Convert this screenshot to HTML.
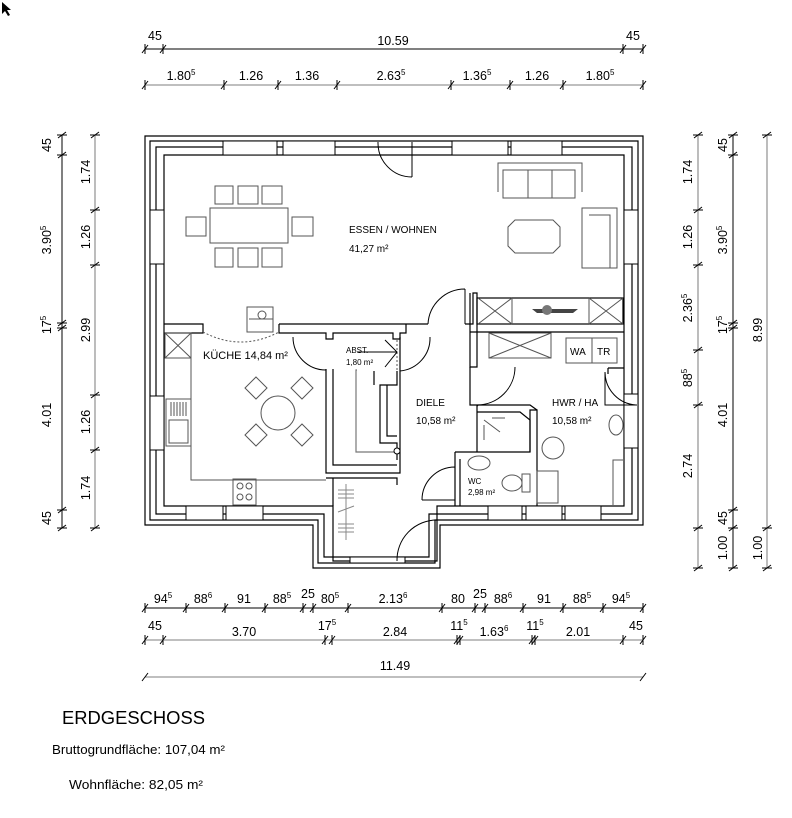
<!DOCTYPE html>
<html><head><meta charset="utf-8"><style>
html,body{margin:0;padding:0;background:#fff;}
svg{display:block;}
text{font-family:"Liberation Sans",sans-serif;fill:#000;}
.d text{font-family:"Liberation Sans Narrow","Liberation Sans",sans-serif;}
.d{font-size:12.5px;}
.r{font-size:10px;}
</style></head><body>
<svg width="792" height="818" viewBox="0 0 792 818" xmlns="http://www.w3.org/2000/svg">
<rect width="792" height="818" fill="#fff"/>
<path d="M2,2 L2,14 L5,11 L8,16 L10,15 L7,10 L11,10 Z" fill="#000"/>

<g stroke="#000" stroke-width="1" fill="none">
<line x1="145" y1="49" x2="643" y2="49"/>
<line x1="62" y1="135" x2="62" y2="528"/>
<line x1="733" y1="135" x2="733" y2="568"/>
</g>
<g stroke="#999" stroke-width="1.3" fill="none">
<line x1="145" y1="85" x2="643" y2="85"/>
<line x1="145" y1="608" x2="643" y2="608" stroke="#000" stroke-width="1"/>
<line x1="145" y1="640" x2="643" y2="640"/>
<line x1="145" y1="677" x2="643" y2="677"/>
<line x1="95" y1="135" x2="95" y2="528"/>
<line x1="698" y1="135" x2="698" y2="568"/>
<line x1="767" y1="135" x2="767" y2="568"/>
</g>
<g stroke="#000" stroke-width="1">
<path d="M142,53L148,45M145,44V54 M160,53L166,45M163,44V54 M620,53L626,45M623,44V54 M640,53L646,45M643,44V54"/>
<path d="M142,89L148,81M145,80V90 M221,89L227,81M224,80V90 M275,89L281,81M278,80V90 M334,89L340,81M337,80V90 M448,89L454,81M451,80V90 M507,89L513,81M510,80V90 M560,89L566,81M563,80V90 M640,89L646,81M643,80V90"/>
<path d="M142,612L148,604M145,603V613 M183,612L189,604M186,603V613 M222,612L228,604M225,603V613 M262,612L268,604M265,603V613 M300,612L306,604M303,603V613 M310,612L316,604M313,603V613 M345,612L351,604M348,603V613 M439,612L445,604M442,603V613 M472,612L478,604M475,603V613 M482,612L488,604M485,603V613 M520,612L526,604M523,603V613 M560,612L566,604M563,603V613 M600,612L606,604M603,603V613 M640,612L646,604M643,603V613"/>
<path d="M142,644L148,636M145,635V645 M160,644L166,636M163,635V645 M322,644L328,636M325,635V645 M329,644L335,636M332,635V645 M454,644L460,636M457,635V645 M457,644L463,636M460,635V645 M529,644L535,636M532,635V645 M532,644L538,636M535,635V645 M620,644L626,636M623,635V645 M640,644L646,636M643,635V645"/>
<path d="M142,681L148,673 M640,681L646,673"/>
<path d="M58,138L66,132M57,135H67 M58,158L66,152M57,155H67 M58,326L66,320M57,323H67 M58,331L66,325M57,328H67 M58,513L66,507M57,510H67 M58,531L66,525M57,528H67"/>
<path d="M91,138L99,132M90,135H100 M91,213L99,207M90,210H100 M91,268L99,262M90,265H100 M91,398L99,392M90,395H100 M91,453L99,447M90,450H100 M91,531L99,525M90,528H100"/>
<path d="M694,138L702,132M693,135H703 M694,213L702,207M693,210H703 M694,268L702,262M693,265H703 M694,353L702,347M693,350H703 M694,408L702,402M693,405H703 M694,531L702,525M693,528H703 M694,571L702,565M693,568H703"/>
<path d="M729,138L737,132M728,135H738 M729,158L737,152M728,155H738 M729,326L737,320M728,323H738 M729,331L737,325M728,328H738 M729,513L737,507M728,510H738 M729,531L737,525M728,528H738 M729,571L737,565M728,568H738"/>
<path d="M763,138L771,132M762,135H772 M763,531L771,525M762,528H772 M763,571L771,565M762,568H772"/>
</g>
<g class="d" text-anchor="middle">
<text x="155" y="40">45</text><text x="393" y="45">10.59</text><text x="633" y="40">45</text>
<text x="181" y="80">1.80<tspan font-size="8" dy="-5">5</tspan></text>
<text x="251" y="80">1.26</text><text x="307" y="80">1.36</text>
<text x="391" y="80">2.63<tspan font-size="8" dy="-5">5</tspan></text>
<text x="477" y="80">1.36<tspan font-size="8" dy="-5">5</tspan></text>
<text x="537" y="80">1.26</text>
<text x="600" y="80">1.80<tspan font-size="8" dy="-5">5</tspan></text>

<text x="163" y="603">94<tspan font-size="8" dy="-5">5</tspan></text>
<text x="203" y="603">88<tspan font-size="8" dy="-5">6</tspan></text>
<text x="244" y="603">91</text>
<text x="282" y="603">88<tspan font-size="8" dy="-5">5</tspan></text>
<text x="308" y="598">25</text>
<text x="330" y="603">80<tspan font-size="8" dy="-5">5</tspan></text>
<text x="393" y="603">2.13<tspan font-size="8" dy="-5">6</tspan></text>
<text x="458" y="603">80</text>
<text x="480" y="598">25</text>
<text x="503" y="603">88<tspan font-size="8" dy="-5">6</tspan></text>
<text x="544" y="603">91</text>
<text x="582" y="603">88<tspan font-size="8" dy="-5">5</tspan></text>
<text x="621" y="603">94<tspan font-size="8" dy="-5">5</tspan></text>

<text x="155" y="630">45</text>
<text x="244" y="636">3.70</text>
<text x="327" y="630">17<tspan font-size="8" dy="-5">5</tspan></text>
<text x="395" y="636">2.84</text>
<text x="459" y="630">11<tspan font-size="8" dy="-5">5</tspan></text>
<text x="494" y="636">1.63<tspan font-size="8" dy="-5">6</tspan></text>
<text x="535" y="630">11<tspan font-size="8" dy="-5">5</tspan></text>
<text x="578" y="636">2.01</text>
<text x="636" y="630">45</text>
<text x="395" y="670">11.49</text>
</g>
<g class="d" text-anchor="middle">
<text transform="translate(51,145) rotate(-90)">45</text>
<text transform="translate(51,240) rotate(-90)">3.90<tspan font-size="8" dy="-5">5</tspan></text>
<text transform="translate(51,325) rotate(-90)">17<tspan font-size="8" dy="-5">5</tspan></text>
<text transform="translate(51,415) rotate(-90)">4.01</text>
<text transform="translate(51,518) rotate(-90)">45</text>
<text transform="translate(90,172) rotate(-90)">1.74</text>
<text transform="translate(90,237) rotate(-90)">1.26</text>
<text transform="translate(90,330) rotate(-90)">2.99</text>
<text transform="translate(90,422) rotate(-90)">1.26</text>
<text transform="translate(90,488) rotate(-90)">1.74</text>

<text transform="translate(692,172) rotate(-90)">1.74</text>
<text transform="translate(692,237) rotate(-90)">1.26</text>
<text transform="translate(692,308) rotate(-90)">2.36<tspan font-size="8" dy="-5">5</tspan></text>
<text transform="translate(692,378) rotate(-90)">88<tspan font-size="8" dy="-5">5</tspan></text>
<text transform="translate(692,466) rotate(-90)">2.74</text>
<text transform="translate(727,548) rotate(-90)">1.00</text>
<text transform="translate(727,145) rotate(-90)">45</text>
<text transform="translate(727,240) rotate(-90)">3.90<tspan font-size="8" dy="-5">5</tspan></text>
<text transform="translate(727,325) rotate(-90)">17<tspan font-size="8" dy="-5">5</tspan></text>
<text transform="translate(727,415) rotate(-90)">4.01</text>
<text transform="translate(727,518) rotate(-90)">45</text>
<text transform="translate(762,330) rotate(-90)">8.99</text>
<text transform="translate(762,548) rotate(-90)">1.00</text>
</g>

<g stroke="#000" stroke-width="1.2" fill="none">
<path d="M145,136H643V525H440V568H313V525H145Z"/>
<path d="M150,141H638V520H435V563H318V520H150Z"/>
<path d="M156,147H632V514H429V557H324V514H156Z"/>
<path d="M164,155H624V506H437V561H333V506H164Z"/>
</g>
<g stroke="#000" stroke-width="1" fill="#fff">
<rect x="223" y="141" width="54" height="14"/>
<rect x="283" y="141" width="52" height="14"/>
<rect x="452" y="141" width="56" height="14"/>
<rect x="511" y="141" width="51" height="14"/>
<rect x="150" y="210" width="14" height="54"/>
<rect x="150" y="396" width="14" height="54"/>
<rect x="624" y="210" width="14" height="54"/>
<rect x="624" y="394" width="14" height="54"/>
<rect x="186" y="506" width="37" height="14"/>
<rect x="226" y="506" width="37" height="14"/>
<rect x="488" y="506" width="34" height="14"/>
<rect x="526" y="506" width="36" height="14"/>
<rect x="565" y="506" width="36" height="14"/>
<rect x="350" y="557" width="55" height="6"/>
</g>

<g stroke="#000" stroke-width="1.2" fill="none">
<path d="M164,324H203V333H164"/>
<path d="M279,324H428M279,324V333H326V339H333V333H393V339H400V333H406V324"/>
<path d="M465,324H473V293H477V332"/>
<rect x="477" y="298" width="146" height="26"/>
<path d="M470,332H624"/>
<path d="M477,332V367H470V293"/>
<path d="M326,369V473H400V337"/>
<path d="M333,369V465H397"/>
<path d="M397,371V385H380V443H397V460"/>
<path d="M374,371V385M387,385V436H397"/>
<path d="M357,370H356V452H397" stroke="#777"/>
<path d="M326,478H397V485M333,478V506"/>
<path d="M455,452H530V410H537V506M460,459V506M455,452V506"/>
<path d="M477,405H530L537,410"/>
<path d="M477,412H520L530,420V452" />
<path d="M477,405V452"/>
<path d="M608,368H624M470,367V405H477"/>
<path d="M608,368V374"/>
</g>
<g stroke="#000" stroke-width="1" fill="none">
<path d="M412,142V177M378,142A34,34 0 0 0 412,177"/>
<path d="M465,289V324M428,324A37,37 0 0 1 465,289" />
<path d="M293,337A33,33 0 0 0 326,370"/>
<path d="M400,337V371M430,337A33,33 0 0 1 400,371"/>
<path d="M477,405L478,406M515,367A38,38 0 0 1 477,405"/>
<path d="M422,500H455V467M422,500A33,33 0 0 1 455,467"/>
<path d="M437,520V561M397,561A40,40 0 0 1 437,520"/>
<path d="M637,405H605V372M605,372A33,33 0 0 0 637,405"/>
<path d="M203,332Q241,352 279,332" stroke-dasharray="2,2" stroke="#555"/>
<path d="M397,340V371" stroke-dasharray="2,2" stroke="#555"/>
<path d="M357,352H397M385,340L397,352L385,367"/>
<circle cx="397" cy="451" r="3" fill="#fff"/>
</g>

<g stroke="#555" stroke-width="1" fill="none">
<rect x="210" y="208" width="78" height="35"/>
<rect x="215" y="186" width="18" height="18"/><rect x="238" y="186" width="20" height="18"/><rect x="262" y="186" width="20" height="18"/>
<rect x="215" y="248" width="18" height="19"/><rect x="238" y="248" width="20" height="19"/><rect x="262" y="248" width="20" height="19"/>
<rect x="186" y="217" width="20" height="19"/><rect x="292" y="217" width="21" height="19"/>
<path d="M498,192V163H582V192"/>
<rect x="503" y="170" width="72" height="28"/>
<path d="M528,170V198M552,170V198"/>
<path d="M515,220H553L560,227V246L553,253H515L508,246V227Z"/>
<rect x="582" y="208" width="35" height="60"/>
<path d="M589,215H610V268"/>
<rect x="247" y="307" width="26" height="25"/>
<circle cx="262" cy="315" r="4"/>
<path d="M249,319H273"/>
<path d="M191,333V480H326"/>
<rect x="165" y="333" width="26" height="25"/>
<path d="M165,333L191,358M191,333L165,358"/>
<rect x="166" y="399" width="25" height="47"/>
<rect x="169" y="420" width="19" height="23"/>
<path d="M171,402V416M174,402V416M177,402V416M180,402V416M183,402V416M186,402V416"/>
<rect x="233" y="479" width="23" height="26"/>
<circle cx="240" cy="486" r="3"/><circle cx="249" cy="486" r="3"/><circle cx="240" cy="497" r="3"/><circle cx="249" cy="497" r="3"/>
<circle cx="278" cy="413" r="17"/>
<path d="M256,377L267,388L256,399L245,388Z"/>
<path d="M302,377L313,388L302,399L291,388Z"/>
<path d="M256,424L267,435L256,446L245,435Z"/>
<path d="M302,424L313,435L302,446L291,435Z"/>
<path d="M478,298L512,324M512,298L478,324M589,298L623,324M623,298L589,324M512,298V324M589,298V324"/>
<rect x="489" y="333" width="62" height="25"/>
<path d="M489,333L551,358M551,333L489,358"/>
<rect x="566" y="338" width="51" height="25"/>
<path d="M592,338V363"/>
<circle cx="553" cy="448" r="11"/>
<ellipse cx="616" cy="425" rx="7" ry="10"/>
<rect x="537" y="471" width="21" height="32"/>
<path d="M613,505V460H623"/>
<ellipse cx="479" cy="463" rx="11" ry="7"/>
<ellipse cx="512" cy="483" rx="10" ry="8"/>
<rect x="522" y="474" width="8" height="18"/>
<path d="M484,420L500,432M492,418H505M484,425V440"/>
<path d="M338,490H354M338,494H354M338,498H354M338,512L354,506M338,524H354M338,528H354M338,532H354M346,484V540" stroke="#888"/>
</g>
<path d="M532,309H578L573,313H537Z" fill="#444"/>
<circle cx="547" cy="310" r="5" fill="#777"/>

<g class="r">
<text x="349" y="233">ESSEN / WOHNEN</text>
<text x="349" y="252">41,27 m²</text>
<text x="203" y="359" font-size="11">KÜCHE 14,84 m²</text>
<text x="346" y="353" font-size="8">ABST.</text>
<text x="346" y="365" font-size="8">1,80 m²</text>
<text x="416" y="406">DIELE</text>
<text x="416" y="424">10,58 m²</text>
<text x="552" y="406">HWR / HA</text>
<text x="552" y="424">10,58 m²</text>
<text x="468" y="484" font-size="8">WC</text>
<text x="468" y="495" font-size="8">2,98 m²</text>
<text x="570" y="355" font-size="10">WA</text>
<text x="597" y="355" font-size="10">TR</text>
</g>

<text x="62" y="724" font-size="18" textLength="143" lengthAdjust="spacingAndGlyphs">ERDGESCHOSS</text>
<text x="52" y="754" font-size="13" textLength="173" lengthAdjust="spacingAndGlyphs">Bruttogrundfläche: 107,04 m²</text>
<text x="69" y="789" font-size="13" textLength="134" lengthAdjust="spacingAndGlyphs">Wohnfläche: 82,05 m²</text>
</svg>
</body></html>
